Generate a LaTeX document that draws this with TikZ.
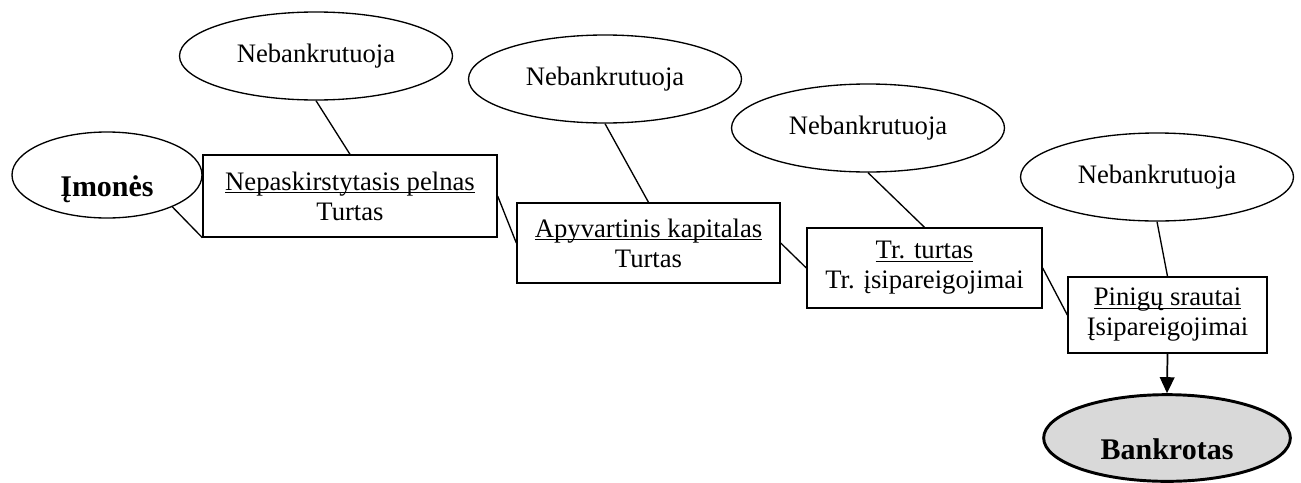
\documentclass[tikz,border=0pt]{standalone}
\usepackage{fontspec}
\setmainfont{Liberation Serif}
\usetikzlibrary{arrows.meta,shapes.geometric}
\newcommand{\ratiohead}[1]{\setbox0\hbox{#1}\rlap{\rule[-2.5pt]{\wd0}{1pt}}\box0}
\newcommand{\lowtext}[1]{\raisebox{-16pt}[0pt][0pt]{#1}}
\definecolor{bankgray}{RGB}{217,217,217}
\tikzset{
  link/.style={black, line width=1pt},
  flow/.style={-{Triangle[length=12pt,width=11pt]}, line width=1.3pt},
  ratio/.style={draw=black, line width=1pt, fill=white, rectangle,
                align=center, inner sep=2pt,
                font=\fontsize{20}{22.5}\selectfont},
  survive/.style={draw=black, line width=1pt, fill=white, ellipse,
                  inner sep=0pt, minimum width=204.75pt, minimum height=66pt,
                  font=\fontsize{20}{24}\selectfont},
  start/.style={survive, font=\bfseries\fontsize{22.5}{26}\selectfont},
  failure/.style={draw=black, line width=2.2pt, fill=bankgray, ellipse,
                  inner sep=0pt, font=\bfseries\fontsize{22.5}{26}\selectfont},
}

\begin{document}
\begin{tikzpicture}[x=0.75pt,y=-0.75pt]
  \path[use as bounding box] (0,0) rectangle (1301,482);

  \node[start, minimum width=142.5pt, minimum height=64.5pt] (imones) at (107,175)
    {\lowtext{Įmonės}};

  \node[ratio, minimum width=220.5pt, minimum height=61.5pt] (nepask) at (350,196)
    {\ratiohead{Nepaskirstytasis pelnas}\\Turtas};
  \node[ratio, minimum width=197.25pt, minimum height=60pt] (apyv) at (648.5,243)
    {\ratiohead{Apyvartinis kapitalas}\\Turtas};
  \node[ratio, minimum width=176.25pt, minimum height=60pt] (trturt) at (924.5,268)
    {\ratiohead{Tr. turtas}\\Tr. įsipareigojimai};
  \node[ratio, minimum width=149.25pt, minimum height=57pt] (pinig) at (1167.5,315)
    {\ratiohead{Pinigų srautai}\\Įsipareigojimai};

  \node[survive] (neb1) at (316,56) {Nebankrutuoja};
  \node[survive] (neb2) at (605,79) {Nebankrutuoja};
  \node[survive] (neb3) at (868,128) {Nebankrutuoja};
  \node[survive] (neb4) at (1157,177) {Nebankrutuoja};

  \node[failure, minimum width=185pt, minimum height=65pt] (bankr) at (1167,438)
    {\lowtext{Bankrotas}};

  % chain of ratios
  \draw[link] (imones.-26) -- (nepask.south west);
  \draw[link] (nepask.east) -- (apyv.west);
  \draw[link] (apyv.east) -- (trturt.west);
  \draw[link] (trturt.east) -- (pinig.west);

  % survival branches
  \draw[link] (neb1.south) -- (nepask.north);
  \draw[link] (neb2.south) -- (apyv.north);
  \draw[link] (neb3.south) -- (trturt.north);
  \draw[link] (neb4.south) -- (pinig.north);

  \draw[flow] (pinig.south) -- (bankr.north);
\end{tikzpicture}
\end{document}
